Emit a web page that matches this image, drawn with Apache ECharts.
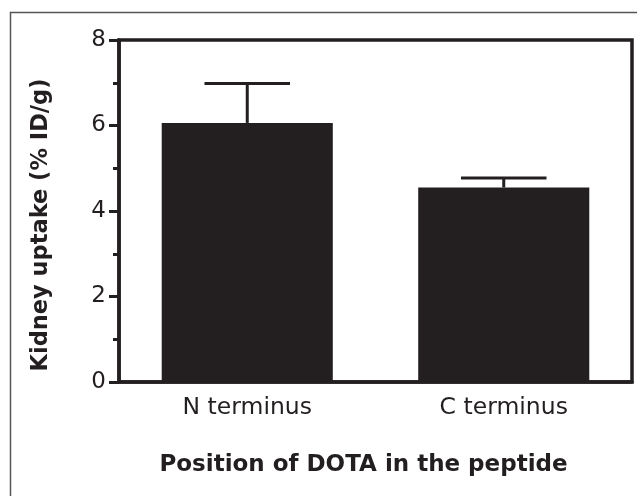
<!DOCTYPE html>
<html>
<head>
<meta charset="utf-8">
<script src="https://cdn.jsdelivr.net/npm/echarts@6/dist/echarts.min.js"></script>
<style>
html,body{margin:0;padding:0;background:#fff;}
#chart{width:637px;height:496px;}
</style>
</head>
<body>
<div id="chart"></div>
<script>
const categories = ["N terminus", "C terminus"];
const meanValues = [6.06, 4.55];
const errorValues = [0.92, 0.22];
const yTicks = [0, 2, 4, 6, 8];

const ink = "#231f20";
const font = "DejaVu Sans";

const chart = echarts.init(document.getElementById("chart"));
chart.setOption({
  backgroundColor: "#fff",
  animation: false,
  grid: {
    left: 119, right: 5, top: 40, bottom: 114,
    show: true, borderColor: ink, borderWidth: 3.5,
    containLabel: false, outerBoundsMode: "none"
  },
  graphic: [{
    type: "polyline",
    silent: true,
    shape: { points: [[10.5, 496], [10.5, 12.5], [637, 12.5]] },
    style: { stroke: "#555", lineWidth: 1.5, fill: null }
  }],
  xAxis: {
    type: "category",
    data: categories,
    name: "Position of DOTA in the peptide",
    nameLocation: "middle",
    nameGap: 72,
    nameTextStyle: { fontFamily: font, fontWeight: "bold", fontSize: 23, color: ink, padding: [0, 24, 0, 0] },
    axisLine: { lineStyle: { color: ink, width: 3.5 } },
    axisTick: { alignWithLabel: true, length: 10, lineStyle: { color: ink, width: 3 } },
    axisLabel: { fontFamily: font, fontSize: 23.5, color: ink, margin: 14 },
    splitLine: { show: false }
  },
  yAxis: {
    type: "value",
    min: yTicks[0], max: yTicks[yTicks.length - 1], interval: 2,
    name: "Kidney uptake (% ID/g)",
    nameLocation: "middle",
    nameGap: 66,
    nameTextStyle: { fontFamily: font, fontWeight: "bold", fontSize: 22.5, color: ink, padding: [0, 28, 0, 0] },
    axisLine: { show: true, lineStyle: { color: ink, width: 3.5 } },
    axisTick: { show: true, length: 10, lineStyle: { color: ink, width: 3 } },
    minorTick: { show: true, splitNumber: 2, length: 6, lineStyle: { color: ink, width: 3 } },
    axisLabel: { fontFamily: font, fontSize: 23, color: ink, margin: 13 },
    splitLine: { show: false },
    minorSplitLine: { show: false }
  },
  series: [{
    type: "bar",
    data: meanValues,
    barWidth: "66.7%",
    itemStyle: { color: ink },
    z: 2
  }, {
    type: "custom",
    z: 3,
    data: categories.map((c, i) => [i, meanValues[i], meanValues[i] + errorValues[i]]),
    renderItem: function (params, api) {
      const base = api.coord([api.value(0), api.value(1)]);
      const top = api.coord([api.value(0), api.value(2)]);
      const bw = api.size([1, 0])[0] * 0.667;
      const half = bw / 4;
      return {
        type: "group",
        children: [{
          type: "line",
          shape: { x1: base[0], y1: base[1], x2: top[0], y2: top[1] },
          style: { stroke: ink, lineWidth: 3 }
        }, {
          type: "line",
          shape: { x1: top[0] - half, y1: top[1], x2: top[0] + half, y2: top[1] },
          style: { stroke: ink, lineWidth: 3 }
        }]
      };
    }
  }]
});
</script>
</body>
</html>
